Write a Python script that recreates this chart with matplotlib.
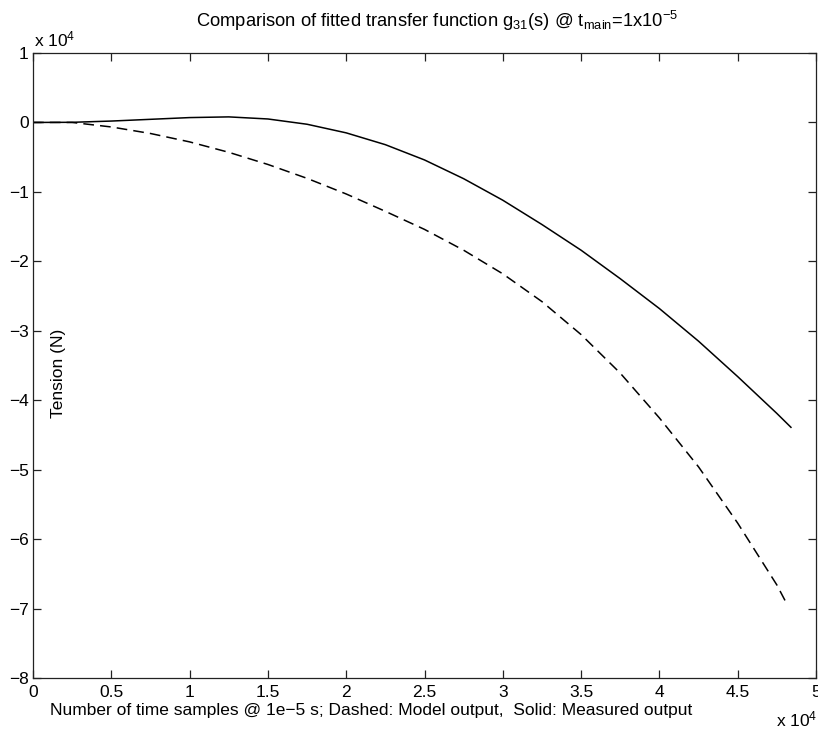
import matplotlib
matplotlib.use("Agg")
import matplotlib.pyplot as plt

plt.rcParams['font.family'] = ['Liberation Sans', 'DejaVu Sans']
plt.rcParams['mathtext.default'] = 'regular'
plt.rcParams['mathtext.fontset'] = 'custom'
plt.rcParams['mathtext.rm'] = 'Liberation Sans'

# Measured output (solid), x in samples, y in N
meas_x = [0, 2500, 5000, 7500, 10000, 12500, 15000, 17500, 20000, 22500,
          25000, 27500, 30000, 32500, 35000, 37500, 40000, 42500, 45000,
          47500, 48400]
meas_y = [0, 20, 200, 450, 700, 800, 500, -260, -1500, -3200,
          -5400, -8100, -11200, -14700, -18400, -22500, -26800, -31500,
          -36600, -41900, -43900]

# Model output (dashed)
model_x = [0, 2500, 5000, 7500, 10000, 12500, 15000, 17500, 20000, 22500,
           25000, 27500, 30000, 32500, 35000, 37500, 40000, 42500, 45000,
           47500, 48200]
model_y = [0, 0, -650, -1590, -2800, -4300, -6050, -8050, -10300, -12800,
           -15400, -18400, -21800, -25800, -30550, -36100, -42550, -49600,
           -57700, -66600, -69600]

xticks = [0, 5000, 10000, 15000, 20000, 25000, 30000, 35000, 40000, 45000, 50000]
xticklabels = ['0', '0.5', '1', '1.5', '2', '2.5', '3', '3.5', '4', '4.5', '5']
yticks = [10000, 0, -10000, -20000, -30000, -40000, -50000, -60000, -70000, -80000]
yticklabels = ['1', '0', '\u22121', '\u22122', '\u22123', '\u22124', '\u22125',
               '\u22126', '\u22127', '\u22128']

W, H = 818, 731
fig = plt.figure(figsize=(W / 100, H / 100), dpi=100)
ax = fig.add_axes([33 / W, (H - 678) / H, 783 / W, 625 / H])

ax.plot(meas_x, meas_y, color='black', lw=1.1, solid_joinstyle='round')
ax.plot(model_x, model_y, color='black', lw=1.1, linestyle=(0, (7, 4)))

ax.set_xlim(0, 50000)
ax.set_ylim(-80000, 10000)
ax.set_xticks(xticks)
ax.set_xticklabels(xticklabels)
ax.set_yticks(yticks)
ax.set_yticklabels(yticklabels)

fs = 12.5
ax.tick_params(direction='in', length=5.5, width=0.9, top=True, right=True,
               labelsize=fs, color='#222222')
ax.tick_params(axis='x', pad=5)
ax.tick_params(axis='y', pad=3)
for s in ax.spines.values():
    s.set_linewidth(0.9)
    s.set_color('#222222')

# y-label placed inside the axes as in the original
fig.text(58 / W, 1 - 373 / H, 'Tension (N)', rotation=90, ha='center', va='center',
         fontsize=fs)

# x-label
fig.text(371 / W, 1 - 710 / H,
         'Number of time samples @ 1e\u22125 s; Dashed: Model output,  Solid: Measured output',
         ha='center', va='center', fontsize=fs)

# exponent labels
fig.text(34 / W, 1 - 39 / H, 'x 10$^4$', ha='left', va='center', fontsize=fs)
fig.text(776 / W, 1 - 719 / H, 'x 10$^4$', ha='left', va='center', fontsize=fs)

# title
fig.text(437 / W, 1 - 21 / H,
         'Comparison of fitted transfer function g$_{31}$(s) @ t$_{main}$=1x10$^{-5}$',
         ha='center', va='center', fontsize=13.2)

fig.savefig('out.png', dpi=100, facecolor='white')
